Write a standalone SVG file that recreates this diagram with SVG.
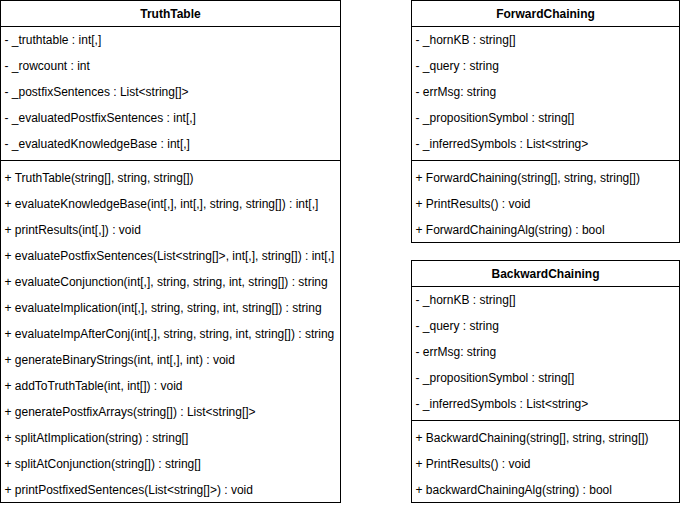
<svg xmlns="http://www.w3.org/2000/svg" width="681" height="506" viewBox="0 0 681 506">
  <style>
    .box { fill: #ffffff; stroke: #000000; stroke-width: 1; }
    .sep { stroke: #000000; stroke-width: 1; fill: none; }
    .title { font-family: "Liberation Sans", Arial, sans-serif; font-size: 12px; font-weight: bold; fill: #000000; text-anchor: middle; }
    .row { font-family: "Liberation Sans", Arial, sans-serif; font-size: 12px; fill: #000000; }
  </style>
  <rect width="681" height="506" fill="#ffffff"/>

  <!-- TruthTable class -->
  <g id="truthtable">
    <rect class="box" x="0.5" y="0.5" width="340" height="502"/>
    <line class="sep" x1="0.5" y1="26.5" x2="340.5" y2="26.5"/>
    <line class="sep" x1="0.5" y1="160.5" x2="340.5" y2="160.5"/>
    <text class="title" x="170.5" y="18">TruthTable</text>
    <g class="row">
      <text x="4.5" y="43.5">- _truthtable : int[,]</text>
      <text x="4.5" y="69.5">- _rowcount : int</text>
      <text x="4.5" y="95.5">- _postfixSentences : List&lt;string[]&gt;</text>
      <text x="4.5" y="121.5">- _evaluatedPostfixSentences : int[,]</text>
      <text x="4.5" y="147.5">- _evaluatedKnowledgeBase : int[,]</text>
      <text x="4.5" y="181.5">+ TruthTable(string[], string, string[])</text>
      <text x="4.5" y="207.5">+ evaluateKnowledgeBase(int[,], int[,], string, string[]) : int[,]</text>
      <text x="4.5" y="233.5">+ printResults(int[,]) : void</text>
      <text x="4.5" y="259.5">+ evaluatePostfixSentences(List&lt;string[]&gt;, int[,], string[]) : int[,]</text>
      <text x="4.5" y="285.5">+ evaluateConjunction(int[,], string, string, int, string[]) : string</text>
      <text x="4.5" y="311.5">+ evaluateImplication(int[,], string, string, int, string[]) : string</text>
      <text x="4.5" y="337.5">+ evaluateImpAfterConj(int[,], string, string, int, string[]) : string</text>
      <text x="4.5" y="363.5">+ generateBinaryStrings(int, int[,], int) : void</text>
      <text x="4.5" y="389.5">+ addToTruthTable(int, int[]) : void</text>
      <text x="4.5" y="415.5">+ generatePostfixArrays(string[]) : List&lt;string[]&gt;</text>
      <text x="4.5" y="441.5">+ splitAtImplication(string) : string[]</text>
      <text x="4.5" y="467.5">+ splitAtConjunction(string[]) : string[]</text>
      <text x="4.5" y="493.5">+ printPostfixedSentences(List&lt;string[]&gt;) : void</text>
    </g>
  </g>

  <!-- ForwardChaining class -->
  <g id="forwardchaining">
    <rect class="box" x="411.5" y="0.5" width="268" height="242"/>
    <line class="sep" x1="411.5" y1="26.5" x2="679.5" y2="26.5"/>
    <line class="sep" x1="411.5" y1="160.5" x2="679.5" y2="160.5"/>
    <text class="title" x="545.5" y="18">ForwardChaining</text>
    <g class="row">
      <text x="415.5" y="43.5">- _hornKB : string[]</text>
      <text x="415.5" y="69.5">- _query : string</text>
      <text x="415.5" y="95.5">- errMsg: string</text>
      <text x="415.5" y="121.5">- _propositionSymbol : string[]</text>
      <text x="415.5" y="147.5">- _inferredSymbols : List&lt;string&gt;</text>
      <text x="415.5" y="181.5">+ ForwardChaining(string[], string, string[])</text>
      <text x="415.5" y="207.5">+ PrintResults() : void</text>
      <text x="415.5" y="233.5">+ ForwardChainingAlg(string) : bool</text>
    </g>
  </g>

  <!-- BackwardChaining class -->
  <g id="backwardchaining">
    <rect class="box" x="411.5" y="260.5" width="268" height="242"/>
    <line class="sep" x1="411.5" y1="286.5" x2="679.5" y2="286.5"/>
    <line class="sep" x1="411.5" y1="420.5" x2="679.5" y2="420.5"/>
    <text class="title" x="545.5" y="278">BackwardChaining</text>
    <g class="row">
      <text x="415.5" y="303.5">- _hornKB : string[]</text>
      <text x="415.5" y="329.5">- _query : string</text>
      <text x="415.5" y="355.5">- errMsg: string</text>
      <text x="415.5" y="381.5">- _propositionSymbol : string[]</text>
      <text x="415.5" y="407.5">- _inferredSymbols : List&lt;string&gt;</text>
      <text x="415.5" y="441.5">+ BackwardChaining(string[], string, string[])</text>
      <text x="415.5" y="467.5">+ PrintResults() : void</text>
      <text x="415.5" y="493.5">+ backwardChainingAlg(string) : bool</text>
    </g>
  </g>

  <!-- no connectors between the classes -->
  <g id="connectors"/>
</svg>
